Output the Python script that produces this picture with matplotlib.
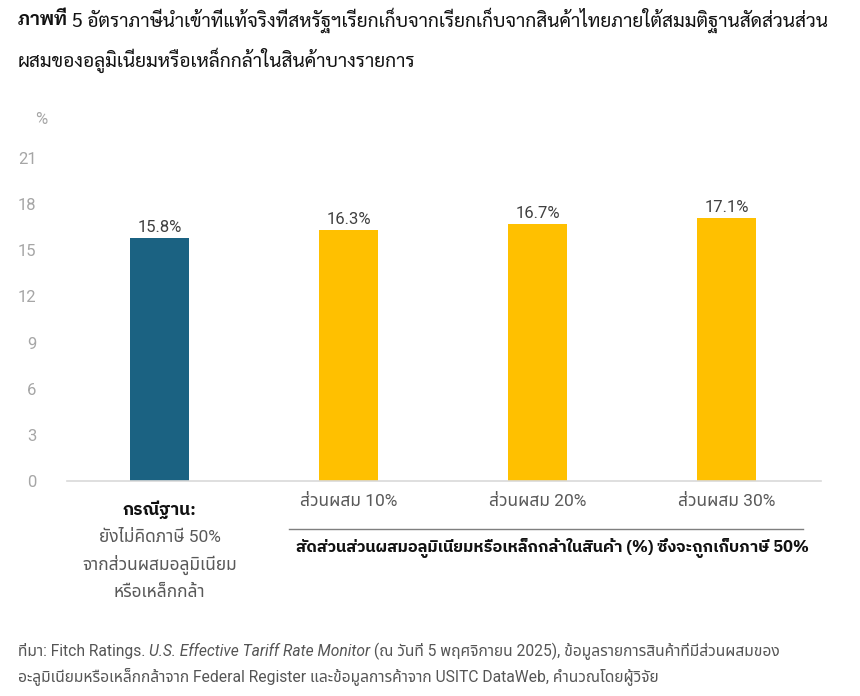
import matplotlib
matplotlib.use("Agg")
import matplotlib.pyplot as plt
from matplotlib.lines import Line2D
from matplotlib.transforms import blended_transform_factory

# data
groups = ["base", "ส่วนผสม 10%", "ส่วนผสม 20%", "ส่วนผสม 30%"]
rates = [15.8, 16.3, 16.7, 17.1]
bar_colors = ["#1b6282", "#ffc000", "#ffc000", "#ffc000"]
yticks = [0, 3, 6, 9, 12, 15, 18, 21]

base_head = "กรณีฐาน:"
base_lines = ["ยังไม่คิดภาษี 50%", "จากส่วนผสมอลูมิเนียม", "หรือเหล็กกล้า"]
group_title = "สัดส่วนส่วนผสมอลูมิเนียมหรือเหล็กกล้าในสินค้า (%) ซึ่งจะถูกเก็บภาษี 50%"

title_bold = "ภาพที่ "
title_1 = "5 อัตราภาษีนำเข้าที่แท้จริงที่สหรัฐฯเรียกเก็บจากเรียกเก็บจากสินค้าไทยภายใต้สมมติฐานสัดส่วนส่วน"
title_2 = "ผสมของอลูมิเนียมหรือเหล็กกล้าในสินค้าบางรายการ"

src_a = "ที่มา: Fitch Ratings. "
src_it = "U.S. Effective Tariff Rate Monitor"
src_b = " (ณ วันที่ 5 พฤศจิกายน 2025), ข้อมูลรายการสินค้าที่มีส่วนผสมของ"
src_2 = "อะลูมิเนียมหรือเหล็กกล้าจาก Federal Register และข้อมูลการค้าจาก USITC DataWeb, คำนวณโดยผู้วิจัย"

SANS = ["Roboto", "Noto Sans Thai", "DejaVu Sans"]
BOLD = ["IBM Plex Sans Thai", "DejaVu Sans"]
TITLE = ["Sarabun", "DejaVu Sans"]

W, H = 860, 696
fig = plt.figure(figsize=(W / 100, H / 100), dpi=100)
ax = fig.add_axes([67 / W, 1 - 481 / H, (821 - 67) / W, (481 - 158) / H])

x = list(range(len(groups)))
ax.bar(x, rates, width=0.31, color=bar_colors, zorder=2)
for xi, v in zip(x, rates):
    ax.annotate(f"{v:.1f}%", (xi, v), xytext=(0, 2.5), textcoords="offset points",
                ha="center", va="bottom", fontsize=12, color="#404040", family=SANS)

ax.set_xlim(-0.49, 3.5)
ax.set_ylim(0, 21)
ax.set_yticks(yticks)
ax.set_yticklabels([str(t) for t in yticks], fontsize=12, color="#a6a6a6", family=SANS)
ax.set_xticks(x)
ax.set_xticklabels([""] + groups[1:], fontsize=12.5, color="#595959", family=SANS)
ax.tick_params(axis="y", length=0, pad=22)
ax.tick_params(axis="x", length=0, pad=9)
for s in ["top", "right", "left"]:
    ax.spines[s].set_visible(False)
ax.spines["bottom"].set_color("#d9d9d9")
ax.spines["bottom"].set_linewidth(1.2)
ax.text(41 / W, 1 - 120 / H, "%", transform=fig.transFigure, ha="center", va="center",
        fontsize=12, color="#a6a6a6", family=SANS)

# base case label under first bar
tr = blended_transform_factory(ax.transData, fig.transFigure)
ax.text(0, 1 - 510 / H, base_head, transform=tr, ha="center", va="center",
        fontsize=12.5, fontweight="bold", color="#111111", family=BOLD)
for i, line in enumerate(base_lines):
    ax.text(0, 1 - (538 + 27.3 * i) / H, line, transform=tr, ha="center", va="center",
            fontsize=12.5, color="#595959", family=SANS)

# bracket line and group title
fig.add_artist(Line2D([289 / W, 803 / W], [1 - 529 / H] * 2, color="#7f7f7f", lw=1))
fig.text(553 / W, 1 - 548 / H, group_title, ha="center", va="center", fontsize=11.8,
         fontweight="bold", color="#111111", family=BOLD)

fig.canvas.draw()
renderer = fig.canvas.get_renderer()


def put_runs(x0, y0, runs, size):
    xx = x0
    made = []
    for txt, kw in runs:
        t = fig.text(xx, y0, txt, va="center", ha="left", fontsize=size, **kw)
        made.append(t)
        xx += t.get_window_extent(renderer).width / fig.bbox.width
    return (xx - x0) * fig.bbox.width, made


def fit_size(runs, target, size=14):
    width, made = put_runs(0, 0, runs, size)
    for t in made:
        t.remove()
    return size * target / width


t1 = [
    (title_bold, dict(fontweight="bold", color="#111111", family=TITLE)),
    (title_1, dict(color="#111111", family=TITLE)),
]
ts = fit_size(t1, 814)
put_runs(18 / W, 1 - 20 / H, t1, ts)
put_runs(18 / W, 1 - 60 / H, [(title_2, dict(color="#111111", family=TITLE))], ts)

f1 = [
    (src_a, dict(color="#555555", family=SANS)),
    (src_it, dict(color="#555555", family=SANS, style="italic")),
    (src_b, dict(color="#555555", family=SANS)),
]
fs = fit_size(f1, 767)
put_runs(18 / W, 1 - 651 / H, f1, fs)
put_runs(18 / W, 1 - 676 / H, [(src_2, dict(color="#555555", family=SANS))], fs)

fig.savefig("out.png", dpi=100)
